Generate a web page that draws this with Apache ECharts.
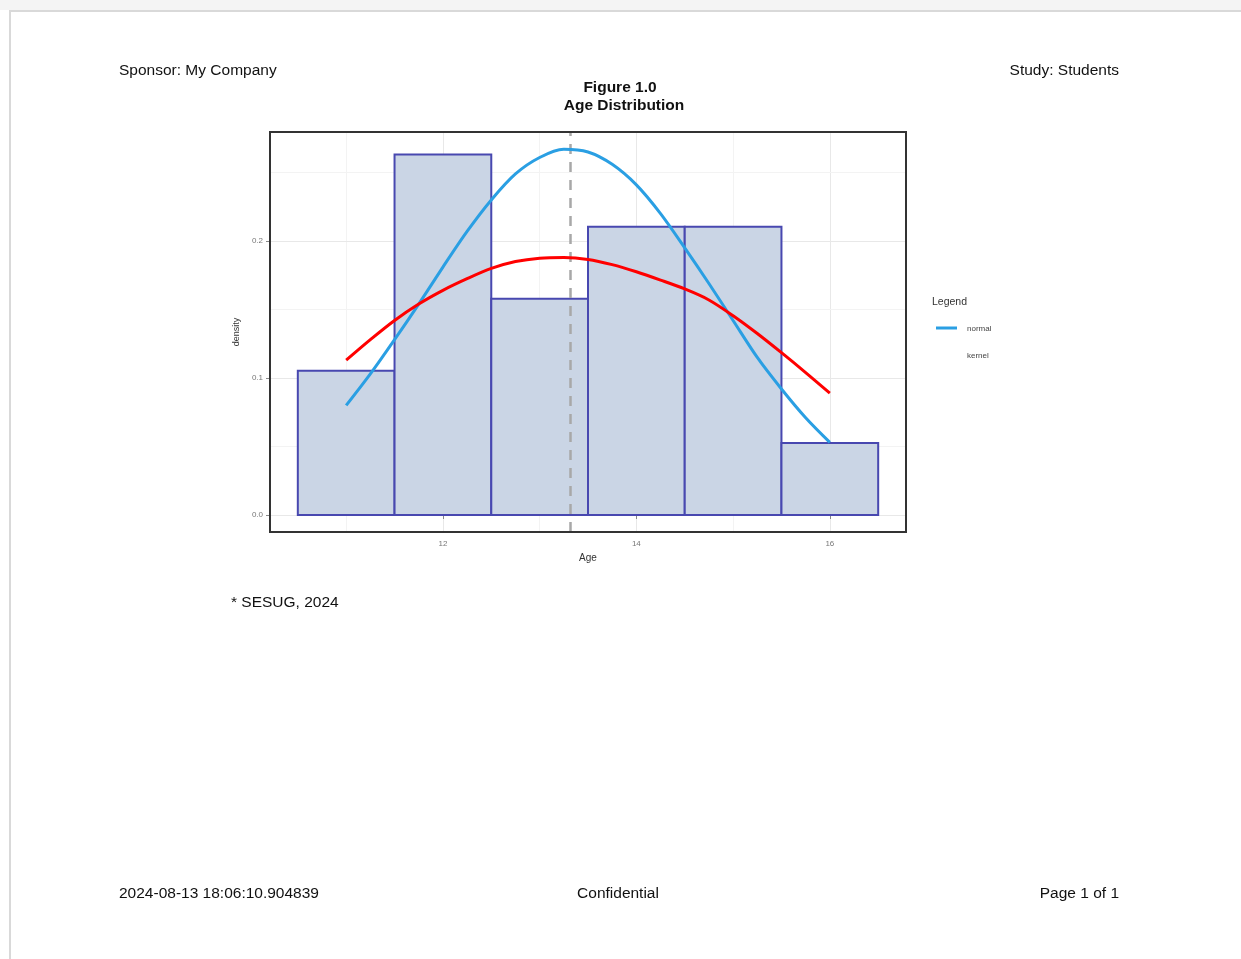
<!DOCTYPE html>
<html>
<head>
<meta charset="utf-8">
<script src="https://cdn.jsdelivr.net/npm/echarts@6/dist/echarts.min.js"></script>
<style>
html,body{margin:0;padding:0;background:#fff;}
#chart{width:1241px;height:959px;}
</style>
</head>
<body>
<div id="chart"></div>
<script>
// ---- data ----
const binStart = [10.5, 11.5, 12.5, 13.5, 14.5, 15.5];
const binEnd   = [11.5, 12.5, 13.5, 14.5, 15.5, 16.5];
const density  = [0.1053, 0.2632, 0.1579, 0.2105, 0.2105, 0.0526];

const curveX  = [11, 11.25, 11.5, 11.75, 12, 12.25, 12.5, 12.75, 13, 13.25, 13.5, 13.75, 14, 14.25, 14.5, 14.75, 15, 15.25, 15.5, 15.75, 16];
const normalY = [0.080, 0.103, 0.128, 0.154, 0.181, 0.207, 0.230, 0.249, 0.261, 0.267, 0.265, 0.256, 0.241, 0.220, 0.195, 0.169, 0.142, 0.115, 0.092, 0.071, 0.053];
const kernelY = [0.113, 0.128, 0.142, 0.154, 0.164, 0.1725, 0.180, 0.185, 0.1875, 0.188, 0.1866, 0.1828, 0.1776, 0.1715, 0.165, 0.157, 0.1455, 0.1325, 0.1185, 0.104, 0.089];

const meanAge = 13.316;

const xTicks = [12, 14, 16];
const xMinorGrid = [11, 13, 15];
const yTicks = [0, 0.1, 0.2];
const yMinorGrid = [0.05, 0.15, 0.25];

const headerLeft = 'Sponsor: My Company';
const headerRight = 'Study: Students';
const titleLine1 = 'Figure 1.0';
const titleLine2 = 'Age Distribution';
const footnote = '* SESUG, 2024';
const footLeft = '2024-08-13 18:06:10.904839';
const footCenter = 'Confidential';
const footRight = 'Page 1 of 1';
const legendTitle = 'Legend';
const legendNames = ['normal', 'kernel'];

// ---- chart ----
const chart = echarts.init(document.getElementById('chart'), null, {renderer: 'canvas'});
const FONT = '"Liberation Sans", Arial, sans-serif';

function pairs(xs, ys) { return xs.map((x, i) => [x, ys[i]]); }

const majorGrid = {color: '#e8e8e8', width: 1, type: 'solid'};
const minorGrid = {color: '#f3f3f3', width: 1, type: 'solid'};

const gridLineData = []
  .concat(xTicks.map(v => ({xAxis: v, lineStyle: majorGrid})))
  .concat(xMinorGrid.map(v => ({xAxis: v, lineStyle: minorGrid})))
  .concat(yTicks.map(v => ({yAxis: v, lineStyle: majorGrid})))
  .concat(yMinorGrid.map(v => ({yAxis: v, lineStyle: minorGrid})));

const option = {
  animation: false,
  backgroundColor: '#ffffff',
  grid: {left: 270, top: 132, width: 636, height: 400, show: true, borderColor: '#333333', borderWidth: 2, backgroundColor: 'transparent', z: 10},
  xAxis: {
    type: 'value', min: 10.2125, max: 16.7875,
    name: 'Age', nameLocation: 'middle', nameGap: 21,
    nameTextStyle: {fontFamily: FONT, fontSize: 10, color: '#333'},
    axisLine: {show: false},
    axisTick: {show: true, length: 4, lineStyle: {color: '#888'}, customValues: xTicks},
    axisLabel: {show: true, fontFamily: FONT, fontSize: 8, color: '#777', margin: 8, customValues: xTicks},
    splitLine: {show: false}
  },
  yAxis: {
    type: 'value', min: -0.0124, max: 0.2796,
    name: 'density', nameLocation: 'middle', nameGap: 27, nameRotate: 90,
    nameTextStyle: {fontFamily: FONT, fontSize: 9, color: '#333'},
    axisLine: {show: false},
    axisTick: {show: true, length: 4, lineStyle: {color: '#888'}, customValues: yTicks},
    axisLabel: {show: true, fontFamily: FONT, fontSize: 8, color: '#777', margin: 7, customValues: yTicks,
      formatter: v => v.toFixed(1)},
    splitLine: {show: false}
  },
  series: [
    {
      type: 'line', data: [], silent: true, z: 0,
      markLine: {silent: true, symbol: 'none', label: {show: false}, animation: false, z: 0, data: gridLineData}
    },
    {
      type: 'custom', z: 2, silent: true,
      data: binStart.map((s, i) => [s, binEnd[i], density[i]]),
      renderItem: function (params, api) {
        const p0 = api.coord([api.value(0), 0]);
        const p1 = api.coord([api.value(1), api.value(2)]);
        return {
          type: 'rect',
          shape: {x: p0[0], y: p1[1], width: p1[0] - p0[0], height: p0[1] - p1[1]},
          style: {fill: '#cad5e5', stroke: '#4848b0', lineWidth: 2}
        };
      }
    },
    {
      type: 'line', z: 3, silent: true, data: [],
      markLine: {silent: true, symbol: 'none', label: {show: false}, animation: false, z: 3,
        data: [{xAxis: meanAge, lineStyle: {color: '#a8a8a8', width: 2.5, type: [10, 8]}}]}
    },
    {
      name: legendNames[0], type: 'line', z: 4, silent: true, smooth: 0.3, showSymbol: false,
      data: pairs(curveX, normalY), lineStyle: {color: '#2a9fe3', width: 3}
    },
    {
      name: legendNames[1], type: 'line', z: 5, silent: true, smooth: 0.3, showSymbol: false,
      data: pairs(curveX, kernelY), lineStyle: {color: '#ff0000', width: 3}
    }
  ],
  graphic: [
    {type: 'rect', left: 0, top: 0, shape: {width: 1241, height: 10}, style: {fill: '#f4f4f4'}, silent: true},
    {type: 'line', shape: {x1: 9, y1: 11, x2: 1241, y2: 11}, style: {stroke: '#d9d9d9', lineWidth: 2}, silent: true},
    {type: 'line', shape: {x1: 10, y1: 11, x2: 10, y2: 959}, style: {stroke: '#d9d9d9', lineWidth: 2}, silent: true},

    {type: 'text', x: 119, y: 71, style: {text: headerLeft, font: '15.5px ' + FONT, fill: '#111', textAlign: 'left', textVerticalAlign: 'middle'}},
    {type: 'text', x: 1119, y: 71, style: {text: headerRight, font: '15.5px ' + FONT, fill: '#111', textAlign: 'right', textVerticalAlign: 'middle'}},
    {type: 'text', x: 620, y: 88, style: {text: titleLine1, font: 'bold 15.5px ' + FONT, fill: '#111', textAlign: 'center', textVerticalAlign: 'middle'}},
    {type: 'text', x: 624, y: 106, style: {text: titleLine2, font: 'bold 15.5px ' + FONT, fill: '#111', textAlign: 'center', textVerticalAlign: 'middle'}},
    {type: 'text', x: 231, y: 603, style: {text: footnote, font: '15.5px ' + FONT, fill: '#111', textAlign: 'left', textVerticalAlign: 'middle'}},
    {type: 'text', x: 119, y: 894, style: {text: footLeft, font: '15.5px ' + FONT, fill: '#111', textAlign: 'left', textVerticalAlign: 'middle'}},
    {type: 'text', x: 618, y: 894, style: {text: footCenter, font: '15.5px ' + FONT, fill: '#111', textAlign: 'center', textVerticalAlign: 'middle'}},
    {type: 'text', x: 1119, y: 894, style: {text: footRight, font: '15.5px ' + FONT, fill: '#111', textAlign: 'right', textVerticalAlign: 'middle'}},

    {type: 'text', x: 932, y: 302, style: {text: legendTitle, font: '10.5px ' + FONT, fill: '#333', textAlign: 'left', textVerticalAlign: 'middle'}},
    {type: 'line', shape: {x1: 936, y1: 328, x2: 957, y2: 328}, style: {stroke: '#2a9fe3', lineWidth: 3}},
    {type: 'text', x: 967, y: 329, style: {text: legendNames[0], font: '8px ' + FONT, fill: '#444', textAlign: 'left', textVerticalAlign: 'middle'}},
    {type: 'text', x: 967, y: 356, style: {text: legendNames[1], font: '8px ' + FONT, fill: '#444', textAlign: 'left', textVerticalAlign: 'middle'}}
  ]
};
chart.setOption(option);
</script>
</body>
</html>
